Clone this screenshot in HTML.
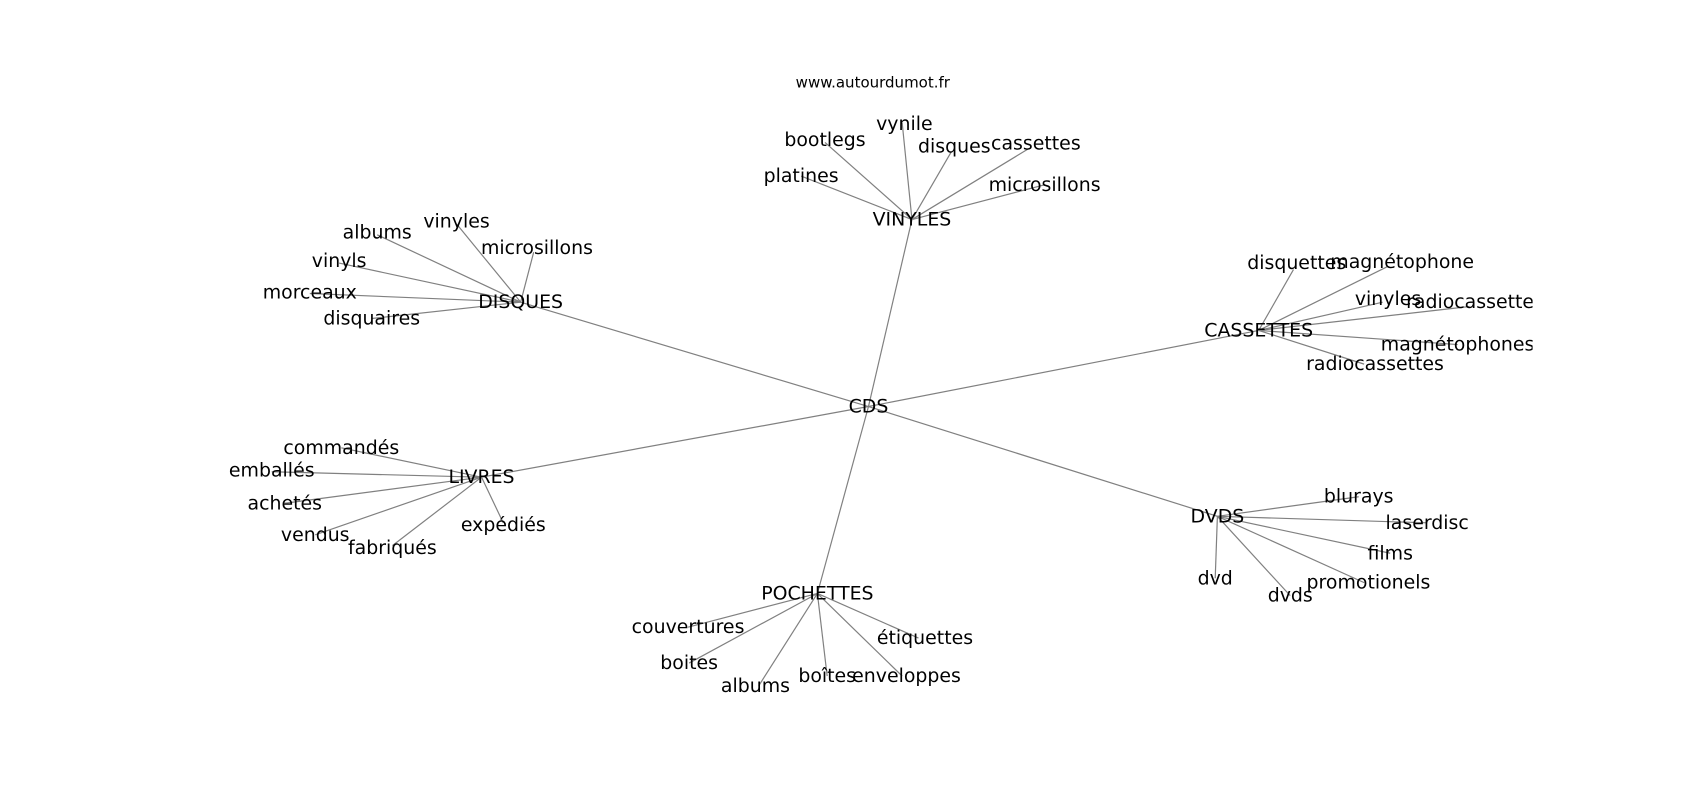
<!DOCTYPE html>
<html><head><meta charset="utf-8"><style>
html,body{margin:0;padding:0;background:#fff;}
svg{display:block}
text{font-family:"DejaVu Sans","Liberation Sans",sans-serif;font-size:17.4px;fill:#000;text-anchor:middle;dominant-baseline:central}
line{stroke:#808080;stroke-width:1.1}
</style></head><body>
<svg width="1700" height="800" viewBox="0 0 1564 736" xmlns="http://www.w3.org/2000/svg">
<defs><clipPath id="c"><rect x="0" y="0" width="1410" height="736"/></clipPath></defs>
<text x="803" y="76" style="font-size:13.8px">www.autourdumot.fr</text>
<g clip-path="url(#c)">
<g>
<line x1="799" y1="374" x2="839" y2="202"/>
<line x1="799" y1="374" x2="479" y2="278"/>
<line x1="799" y1="374" x2="1158" y2="304"/>
<line x1="799" y1="374" x2="443" y2="439"/>
<line x1="799" y1="374" x2="752" y2="546"/>
<line x1="799" y1="374" x2="1120" y2="475"/>

<line x1="839" y1="202" x2="737" y2="162"/>
<line x1="839" y1="202" x2="759" y2="131"/>
<line x1="839" y1="202" x2="830" y2="113"/>
<line x1="839" y1="202" x2="875" y2="140"/>
<line x1="839" y1="202" x2="946" y2="137"/>
<line x1="839" y1="202" x2="961" y2="170"/>

<line x1="479" y1="278" x2="347" y2="216"/>
<line x1="479" y1="278" x2="420" y2="206"/>
<line x1="479" y1="278" x2="491" y2="232"/>
<line x1="479" y1="278" x2="312" y2="242"/>
<line x1="479" y1="278" x2="285" y2="270"/>
<line x1="479" y1="278" x2="342" y2="293"/>

<line x1="1158" y1="304" x2="1190" y2="248"/>
<line x1="1158" y1="304" x2="1277" y2="245"/>
<line x1="1158" y1="304" x2="1272" y2="278"/>
<line x1="1158" y1="304" x2="1352" y2="282"/>
<line x1="1158" y1="304" x2="1341" y2="317"/>
<line x1="1158" y1="304" x2="1255" y2="335"/>

<line x1="443" y1="439" x2="314" y2="412"/>
<line x1="443" y1="439" x2="250" y2="434"/>
<line x1="443" y1="439" x2="262" y2="463"/>
<line x1="443" y1="439" x2="290" y2="492"/>
<line x1="443" y1="439" x2="361" y2="502"/>
<line x1="443" y1="439" x2="463" y2="481"/>

<line x1="752" y1="546" x2="633" y2="577"/>
<line x1="752" y1="546" x2="634" y2="610"/>
<line x1="752" y1="546" x2="698" y2="631"/>
<line x1="752" y1="546" x2="761" y2="622"/>
<line x1="752" y1="546" x2="830" y2="622"/>
<line x1="752" y1="546" x2="845" y2="587"/>

<line x1="1120" y1="475" x2="1250" y2="457"/>
<line x1="1120" y1="475" x2="1313" y2="481"/>
<line x1="1120" y1="475" x2="1279" y2="509"/>
<line x1="1120" y1="475" x2="1255" y2="536"/>
<line x1="1120" y1="475" x2="1187" y2="548"/>
<line x1="1120" y1="475" x2="1118" y2="532"/>
</g>
<text x="799" y="374">CDS</text>
<text x="839" y="202">VINYLES</text>
<text x="737" y="162">platines</text>
<text x="759" y="129">bootlegs</text>
<text x="832" y="114">vynile</text>
<text x="878" y="135">disques</text>
<text x="953" y="132">cassettes</text>
<text x="961" y="170">microsillons</text>

<text x="479" y="278">DISQUES</text>
<text x="347" y="214">albums</text>
<text x="420" y="204">vinyles</text>
<text x="494" y="228">microsillons</text>
<text x="312" y="240">vinyls</text>
<text x="285" y="269">morceaux</text>
<text x="342" y="293">disquaires</text>

<text x="1158" y="304">CASSETTES</text>
<text x="1193" y="242">disquettes</text>
<text x="1290" y="241">magnétophone</text>
<text x="1277" y="275">vinyles</text>
<text x="1357" y="278">radiocassettes</text>
<text x="1341" y="317">magnétophones</text>
<text x="1265" y="335">radiocassettes</text>

<text x="443" y="439">LIVRES</text>
<text x="314" y="412">commandés</text>
<text x="250" y="433">emballés</text>
<text x="262" y="463">achetés</text>
<text x="290" y="492">vendus</text>
<text x="361" y="504">fabriqués</text>
<text x="463" y="483">expédiés</text>

<text x="752" y="546">POCHETTES</text>
<text x="633" y="577">couvertures</text>
<text x="634" y="610">boites</text>
<text x="695" y="631">albums</text>
<text x="761" y="622">boîtes</text>
<text x="834" y="622">enveloppes</text>
<text x="851" y="587">étiquettes</text>

<text x="1120" y="475">DVDS</text>
<text x="1250" y="457">blurays</text>
<text x="1313" y="481">laserdisc</text>
<text x="1279" y="509">films</text>
<text x="1259" y="536">promotionels</text>
<text x="1187" y="548">dvds</text>
<text x="1118" y="532">dvd</text>
</g>
</svg>
</body></html>
